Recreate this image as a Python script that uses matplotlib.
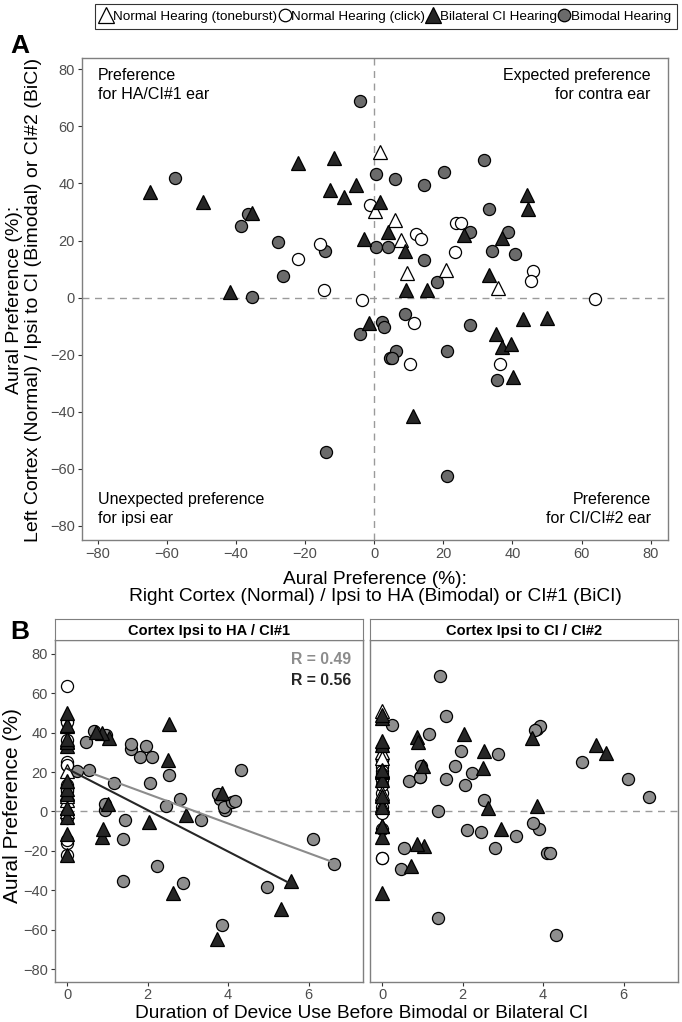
import numpy as np
import matplotlib
matplotlib.use('Agg')
import matplotlib.pyplot as plt
from matplotlib.lines import Line2D

plt.rcParams['font.family'] = ['Liberation Sans', 'DejaVu Sans']

# Normal hearing (toneburst): aural preference of right / left cortex
tone_right = [1.7, 0.3, 5.9, 7.8, 9.4, 20.7, 35.7]
tone_left = [51.2, 30.2, 27.1, 20.1, 8.6, 9.5, 3.4]

# Normal hearing (click)
click_right = [-1.2, 12.1, 13.5, 23.7, 25.0, 23.4, 46.0, 45.4, 63.9, -3.4, -15.8, -21.9, -14.6, 11.4, 36.4, 10.4]
click_left = [32.4, 22.4, 20.4, 26.3, 26.3, 16.0, 9.3, 5.8, -0.5, -0.8, 18.9, 13.6, 2.5, -8.9, -23.4, -23.4]

# Bilateral CI: CI#1 side, CI#2 side, duration of device use
bici_right = [-64.7, -49.5, -41.6, -35.2, -21.9, -12.9, -11.6, -8.7, -5.2, -3.0, -1.6, 1.7, 3.9, 9.0,
              9.2, 11.2, 15.4, 26.1, 33.3, 35.2, 36.9, 37.1, 39.6, 40.3, 43.2, 44.1, 44.6, 50.1]
bici_left = [37.1, 33.6, 1.9, 29.7, 47.3, 37.7, 48.8, 35.3, 39.4, 20.4, -9.0, 33.6, 23.0, 16.2,
             2.8, -41.5, 2.5, 22.0, 8.0, -12.8, 20.9, -17.5, -16.3, -27.8, -7.5, 35.9, 30.9, -7.3]
bici_dur = [3.73, 5.31, 2.62, 5.56, 0, 0.87, 0, 0.88, 2.04, 0, 2.96, 0, 1.02, 0,
            3.85, 0, 0, 2.51, 0, 0, 0, 1.05, 0.87, 0.72, 0, 0, 2.53, 0]

# Bimodal: HA side, CI side, duration of device use
bim_right = [-4.2, -57.7, -36.5, -38.5, -27.8, -14.2, -26.5, -35.3, 0.6, 6.1, 14.5, 20.3, 31.8, 33.3,
             27.7, 38.6, 34.2, 40.8, 0.6, 3.9, 14.5, 18.3, -4.2, -13.9, 2.2, 2.9, 8.8, 27.7, 35.5,
             6.3, 4.6, 5.1, 21.2, 21.0]
bim_left = [68.8, 41.8, 29.2, 25.1, 19.5, 16.5, 7.5, 0.1, 43.3, 41.4, 39.4, 44.1, 48.2, 30.9,
            23.0, 23.0, 16.5, 15.4, 17.7, 17.7, 13.3, 5.6, -12.6, -54.1, -8.7, -10.2, -5.8, -9.6, -29.0,
            -18.7, -21.2, -21.3, -18.7, -62.7]
bim_dur = [1.43, 3.85, 2.89, 4.97, 2.24, 6.1, 6.63, 1.4, 3.91, 3.79, 1.17, 0.24, 1.6, 1.95,
           1.82, 0.97, 1.6, 0.66, 0.95, 0.94, 2.06, 2.53, 3.32, 1.4, 3.89, 2.45, 3.75, 2.1, 0.47,
           2.8, 4.1, 4.17, 0.55, 4.33]

r_texts = ['R = 0.49', 'R = 0.56']
strip_titles = ['Cortex Ipsi to HA / CI#1', 'Cortex Ipsi to CI / CI#2']

W, H = 682, 1022
TXT = '#4D4D4D'
EDGE = '#333333'
DARK = '#262626'


def box(l, t, r, b):
    return [l / W, 1 - b / H, (r - l) / W, (b - t) / H]


def style(ax):
    for s in ax.spines.values():
        s.set_color('#7f7f7f')
        s.set_linewidth(1.0)
    ax.tick_params(length=3, width=0.8, color=EDGE, labelcolor=TXT, labelsize=10.5, pad=2)


def draw(ax, data, gray_fill):
    bx, by, cx, cy, tx, ty, dx, dy = data
    ax.plot(bx, by, 'o', ms=8.7, mfc=gray_fill, mec='black', mew=0.9, ls='none', zorder=3)
    ax.plot(cx, cy, 'o', ms=8.7, mfc='white', mec='black', mew=0.9, ls='none', zorder=4)
    ax.plot(tx, ty, '^', ms=10.5, mfc='white', mec='black', mew=0.9, ls='none', zorder=5)
    ax.plot(dx, dy, '^', ms=10.5, mfc=DARK, mec='black', mew=0.9, ls='none', zorder=6)


fig = plt.figure(figsize=(W / 100, H / 100), dpi=100)

# ---- Panel A
axA = fig.add_axes(box(82, 58, 668, 540))
axA.axhline(0, color='#9a9a9a', ls=(0, (5, 4)), lw=1, zorder=1)
axA.axvline(0, color='#9a9a9a', ls=(0, (5, 4)), lw=1, zorder=1)
draw(axA, (bim_right, bim_left, click_right, click_left, tone_right, tone_left, bici_right, bici_left), '#6b6b6b')
axA.set_xlim(-84.5, 85)
axA.set_ylim(-85, 84)
ticks = np.arange(-80, 81, 20)
axA.set_xticks(ticks)
axA.set_yticks(ticks)
style(axA)
fig.text(375 / W, 1 - 588 / H,
         'Aural Preference (%):\nRight Cortex (Normal) / Ipsi to HA (Bimodal) or CI#1 (BiCI)',
         ha='center', va='center', fontsize=13.8, linespacing=1.05)
fig.text(24 / W, 1 - 300 / H,
         'Aural Preference (%):\nLeft Cortex (Normal) / Ipsi to CI (Bimodal) or CI#2 (BiCI)',
         ha='center', va='center', rotation=90, fontsize=14, linespacing=1.12)
qfs = 11.5
axA.text(-80, 80.5, 'Preference\nfor HA/CI#1 ear', ha='left', va='top', fontsize=qfs, linespacing=1.3)
axA.text(80, 80.5, 'Expected preference\nfor contra ear', ha='right', va='top', fontsize=qfs, linespacing=1.3)
axA.text(-80, -80, 'Unexpected preference\nfor ipsi ear', ha='left', va='bottom', fontsize=qfs, linespacing=1.3)
axA.text(80, -80, 'Preference\nfor CI/CI#2 ear', ha='right', va='bottom', fontsize=qfs, linespacing=1.3)

# ---- Panel B
panels = [box(55, 640, 363, 982), box(370, 640, 678, 982)]
nt_dur = [0] * len(tone_right)
nc_dur = [0] * len(click_right)
axB = []
for i, rect in enumerate(panels):
    ax = fig.add_axes(rect)
    ax.axhline(0, color='#9a9a9a', ls=(0, (5, 4)), lw=1, zorder=1)
    if i == 0:
        draw(ax, (bim_dur, bim_right, nc_dur, click_right, nt_dur, tone_right, bici_dur, bici_right), '#8e8e8e')
    else:
        draw(ax, (bim_dur, bim_left, nc_dur, click_left, nt_dur, tone_left, bici_dur, bici_left), '#8e8e8e')
    ax.set_xlim(-0.3, 7.35)
    ax.set_ylim(-86.5, 87)
    ax.set_xticks([0, 2, 4, 6])
    ax.set_yticks(ticks)
    style(ax)
    ax.tick_params(axis='x', pad=1)
    if i == 1:
        ax.tick_params(axis='y', left=False, labelleft=False)
    # strip
    sx = fig.add_axes([rect[0], rect[1] + rect[3], rect[2], 21 / H])
    sx.set_xticks([])
    sx.set_yticks([])
    for s in sx.spines.values():
        s.set_color('#7f7f7f')
    sx.text(0.5, 0.45, strip_titles[i], ha='center', va='center', fontsize=10.5, fontweight='bold',
            transform=sx.transAxes)
    axB.append(ax)

# regression lines in left panel
for dur, val, col in [(bim_dur, bim_right, '#8c8c8c'), (bici_dur, bici_right, DARK)]:
    d = np.array(dur)
    v = np.array(val)
    k, c = np.polyfit(d, v, 1)
    xx = np.array([d.min(), d.max()])
    axB[0].plot(xx, k * xx + c, color=col, lw=1.5, zorder=7)

axB[0].text(7.05, 77, r_texts[0], ha='right', va='center', fontsize=11.3, fontweight='bold', color='#8c8c8c')
axB[0].text(7.05, 66.5, r_texts[1], ha='right', va='center', fontsize=11.3, fontweight='bold', color=DARK)
fig.text(13 / W, 1 - 806 / H, 'Aural Preference (%)', ha='center', va='center', rotation=90, fontsize=15)
fig.text(362 / W, 1 - 1013 / H, 'Duration of Device Use Before Bimodal or Bilateral CI',
         ha='center', va='center', fontsize=13.8)

# panel letters
fig.text(10 / W, 1 - 46 / H, 'A', fontsize=19, fontweight='bold', va='center', ha='left')
fig.text(10 / W, 1 - 632 / H, 'B', fontsize=19, fontweight='bold', va='center', ha='left')

# legend
handles = [
    Line2D([], [], marker='^', ls='none', ms=11, mfc='white', mec='black', mew=0.9),
    Line2D([], [], marker='o', ls='none', ms=9, mfc='white', mec='black', mew=0.9),
    Line2D([], [], marker='^', ls='none', ms=11, mfc=DARK, mec='black', mew=0.9),
    Line2D([], [], marker='o', ls='none', ms=9, mfc='#6b6b6b', mec='black', mew=0.9),
]
labels = ['Normal Hearing (toneburst)', 'Normal Hearing (click)', 'Bilateral CI Hearing', 'Bimodal Hearing']
leg = fig.legend(handles, labels, loc='center', bbox_to_anchor=(386 / W, 1 - 16.5 / H), ncol=4,
                 fontsize=9.7, frameon=True, fancybox=False, handlelength=0.8, handletextpad=0.1,
                 columnspacing=0.15, borderpad=0.45, borderaxespad=0)
leg.get_frame().set_edgecolor('black')
leg.get_frame().set_linewidth(0.8)

fig.savefig('out.png', dpi=100)
